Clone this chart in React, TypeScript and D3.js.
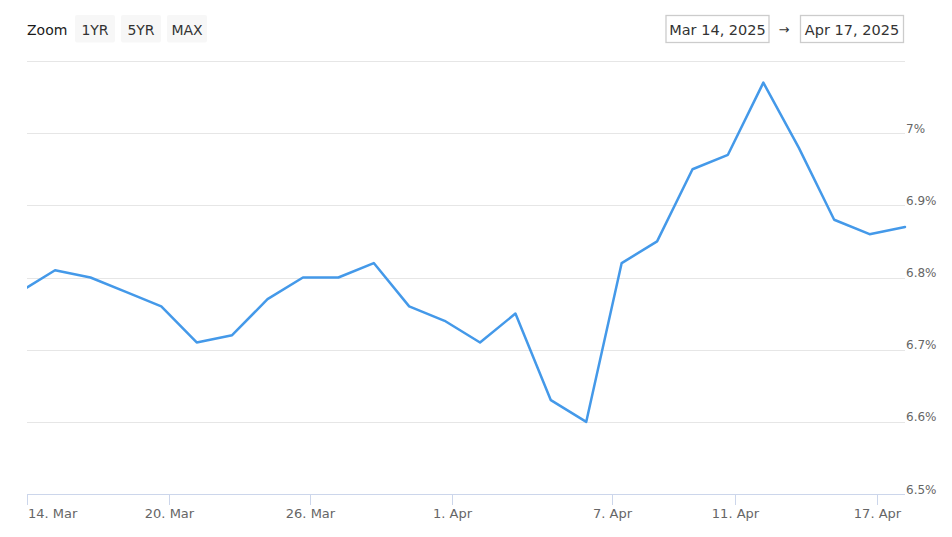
import React from "react";
import * as d3 from "d3";

const dates = [
  "2025-03-13", "2025-03-14", "2025-03-17", "2025-03-18", "2025-03-19", "2025-03-20",
  "2025-03-21", "2025-03-24", "2025-03-25", "2025-03-26", "2025-03-27", "2025-03-28",
  "2025-03-31", "2025-04-01", "2025-04-02", "2025-04-03", "2025-04-04", "2025-04-07",
  "2025-04-08", "2025-04-09", "2025-04-10", "2025-04-11", "2025-04-14", "2025-04-15",
  "2025-04-16", "2025-04-17",
];
const values = [
  6.78, 6.81, 6.80, 6.78, 6.76, 6.71, 6.72, 6.77, 6.80, 6.80, 6.82, 6.76, 6.74, 6.71,
  6.75, 6.63, 6.60, 6.82, 6.85, 6.95, 6.97, 7.07, 6.98, 6.88, 6.86, 6.87,
];
const xTickDates = ["2025-03-14", "2025-03-20", "2025-03-26", "2025-04-01", "2025-04-07", "2025-04-11", "2025-04-17"];
const xTickLabels = ["14. Mar", "20. Mar", "26. Mar", "1. Apr", "7. Apr", "11. Apr", "17. Apr"];
const yTicks = [6.5, 6.6, 6.7, 6.8, 6.9, 7.0, 7.1];
const zoomButtons = ["1YR", "5YR", "MAX"];
const rangeFrom = "Mar 14, 2025";
const rangeTo = "Apr 17, 2025";

const W = 952;
const H = 537;
const L = 27;
const R = 905;
const T = 61;
const B = 494;
const FONT = "'DejaVu Sans', Verdana, sans-serif";

function ts(s: string, hour = 0) {
  const [y, m, d] = s.split("-").map(Number);
  return Date.UTC(y, m - 1, d, hour);
}

export default function App() {
  const times = dates.map((d) => ts(d, 19));
  const toIndex = d3.scaleLinear().domain(times).range(times.map((_, i) => i));
  const minIdx = toIndex(ts("2025-03-14"));
  const xPix = d3.scaleLinear().domain([minIdx, times.length - 1]).range([L, R]);
  const x = (t: number) => xPix(toIndex(t));
  const y = d3.scaleLinear().domain([6.5, 7.1]).range([B, T]);

  const line = d3
    .line<number>()
    .x((_, i) => x(times[i]))
    .y((v) => y(v));

  const btnX = [75, 121, 167];

  return (
    <svg
      width={W}
      height={H}
      style={{ position: "absolute", left: 0, top: 0, background: "#fff" }}
      fontFamily={FONT}
    >
      <defs>
        <clipPath id="plot">
          <rect x={L} y={T - 10} width={R - L + 2} height={B - T + 20} />
        </clipPath>
      </defs>
      <rect x={0} y={0} width={W} height={H} fill="#fff" />

      {/* header */}
      <text x={27} y={35} fontSize={14} fill="#1a1a1a">Zoom</text>
      {zoomButtons.map((b, i) => (
        <g key={b}>
          <rect x={btnX[i]} y={15} width={40} height={27.5} rx={2} fill="#f7f7f7" />
          <text x={btnX[i] + 20} y={35} fontSize={14} fill="#333" textAnchor="middle">{b}</text>
        </g>
      ))}
      <rect x={666} y={15.5} width={103} height={27} fill="#fff" stroke="#cccccc" strokeWidth={1.3} />
      <text x={717.5} y={35} fontSize={14.5} fill="#333" textAnchor="middle">{rangeFrom}</text>
      <text x={784} y={34} fontSize={13} fill="#333" textAnchor="middle">→</text>
      <rect x={800.5} y={15.5} width={103} height={27} fill="#fff" stroke="#cccccc" strokeWidth={1.3} />
      <text x={852} y={35} fontSize={14.5} fill="#333" textAnchor="middle">{rangeTo}</text>

      {/* grid */}
      {yTicks.map((v) => (
        <line key={v} x1={L} x2={R} y1={Math.round(y(v)) + 0.5} y2={Math.round(y(v)) + 0.5} stroke="#e6e6e6" strokeWidth={1} />
      ))}
      {yTicks.slice(0, -1).map((v) => (
        <text key={"l" + v} x={906} y={y(v) - 0.5} fontSize={12} fill="#666">
          {`${+v.toFixed(1)}%`}
        </text>
      ))}

      {/* x axis */}
      <line x1={L} x2={R} y1={B + 0.5} y2={B + 0.5} stroke="#ccd6eb" strokeWidth={1} />
      {xTickDates.map((d, i) => {
        const px = Math.round(x(ts(d))) + 0.5;
        return (
          <g key={d}>
            <line x1={px} x2={px} y1={B} y2={B + 11} stroke="#ccd6eb" strokeWidth={1} />
            <text
              x={i === 0 ? L + 1 : px}
              y={517.5}
              fontSize={13}
              fill="#666"
              textAnchor={i === 0 ? "start" : "middle"}
            >
              {xTickLabels[i]}
            </text>
          </g>
        );
      })}

      {/* series */}
      <g clipPath="url(#plot)">
        <path d={line(values) || ""} fill="none" stroke="#4499e9" strokeWidth={2.5} strokeLinejoin="round" strokeLinecap="round" />
      </g>
    </svg>
  );
}
